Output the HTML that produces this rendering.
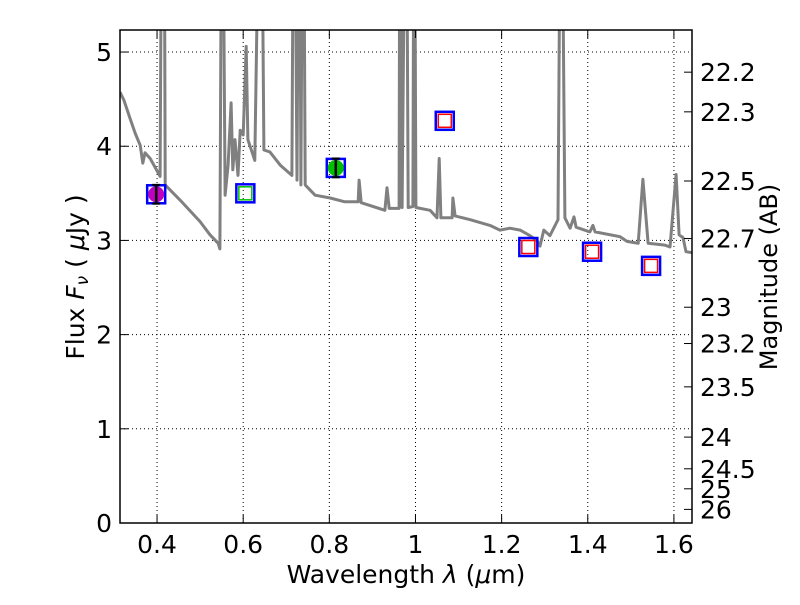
<!DOCTYPE html>
<html><head><meta charset="utf-8"><style>
body{margin:0;background:#fff}
svg{font-family:"DejaVu Sans","Liberation Sans",sans-serif}
</style></head><body>
<svg id="chart" width="800" height="600" viewBox="0 0 800 600" xmlns="http://www.w3.org/2000/svg">
<rect x="0" y="0" width="800" height="600" fill="#fff"/>
<g id="grid"></g>
<g id="plot"></g>
<g id="axes"></g>
<text x="406" y="583" font-size="25" text-anchor="middle">Wavelength  <tspan font-style="italic">λ</tspan> (<tspan font-style="italic">μ</tspan>m)</text>
<text transform="translate(84,277) rotate(-90)" font-size="25" text-anchor="middle">Flux  <tspan font-style="italic">F<tspan font-size="17" dy="4">ν</tspan></tspan><tspan dy="-4">  ( </tspan><tspan font-style="italic">μ</tspan>Jy )</text>
<text transform="translate(777,277) rotate(-90)" font-size="24" text-anchor="middle">Magnitude (AB)</text>
</svg>
<script>
const specLambda=[0.314,0.323,0.337,0.349,0.361,0.367,0.372,0.384,0.395,0.407,0.412,0.416,0.419,0.453,0.500,0.523,0.542,0.546,0.551,0.558,0.565,0.572,0.576,0.581,0.588,0.593,0.600,0.607,0.611,0.627,0.641,0.648,0.662,0.686,0.713,0.718,0.725,0.730,0.734,0.739,0.744,0.767,0.802,0.836,0.867,0.869,0.874,0.929,0.934,0.939,0.962,0.964,0.969,0.978,0.983,0.994,0.997,1.001,1.034,1.050,1.055,1.059,1.085,1.087,1.092,1.127,1.173,1.196,1.219,1.243,1.266,1.282,1.289,1.298,1.312,1.331,1.338,1.347,1.359,1.368,1.373,1.405,1.412,1.417,1.475,1.491,1.517,1.528,1.540,1.579,1.591,1.605,1.612,1.621,1.628,1.642];
const specFlux=[4.575,4.49,4.30,4.14,4.01,3.82,3.93,3.87,3.78,3.68,8,8,3.59,3.43,3.20,3.06,2.97,2.91,8,3.48,3.80,4.46,3.75,4.07,3.69,4.17,4.12,5.06,4.07,3.85,8,3.96,3.94,3.80,3.69,8,3.64,8,3.59,8,3.59,3.48,3.45,3.41,3.41,3.64,3.40,3.32,3.56,3.34,3.34,8,3.35,8,3.35,3.36,8,3.35,3.32,3.24,3.87,3.24,3.24,3.45,3.26,3.22,3.16,3.11,3.13,3.11,3.05,3.00,2.94,3.11,3.05,3.22,8,3.24,3.13,3.25,3.14,3.09,3.16,3.09,3.04,2.99,2.97,3.65,2.97,2.95,2.93,3.70,3.06,3.03,2.88,2.87];
const photLambda=[0.398,0.605,0.815,1.068,1.262,1.41,1.547];
const photFlux=[3.49,3.50,3.77,4.27,2.93,2.88,2.73];
const photErr=[0.1,0,0.1,0,0,0,0];
const photKind=['purple','green-open','green','red','red','red','red'];
const xTicks=[0.4,0.6,0.8,1.0,1.2,1.4,1.6];
const xTickLabels=['0.4','0.6','0.8','1','1.2','1.4','1.6'];
const yTicks=[0,1,2,3,4,5];
const magTicks=[22.2,22.3,22.5,22.7,23,23.2,23.5,24,24.5,25,26];
const magTickLabels=['22.2','22.3','22.5','22.7','23','23.2','23.5','24','24.5','25','26'];

const L=120,R=692,T=30,B=523;
const xMin=0.314,xMax=1.642,yMin=0,yMax=5.234;
const sx=v=>L+(v-xMin)/(xMax-xMin)*(R-L);
const sy=v=>B-(v-yMin)/(yMax-yMin)*(B-T);
const NS='http://www.w3.org/2000/svg';
function mk(tag,attrs,parent){const e=document.createElementNS(NS,tag);for(const k in attrs)e.setAttribute(k,attrs[k]);parent.appendChild(e);return e;}
const grid=document.getElementById('grid'),plot=document.getElementById('plot'),axes=document.getElementById('axes');

const defs=mk('defs',{},document.getElementById('chart'));
const cp=mk('clipPath',{id:'clip'},defs);mk('rect',{x:L,y:T,width:R-L,height:B-T},cp);
plot.setAttribute('clip-path','url(#clip)');

xTicks.forEach((v,i)=>{
  const g=mk('line',{x1:sx(v),x2:sx(v),y1:T,y2:B,stroke:'#000','stroke-width':1,'stroke-dasharray':'1,3'},grid);
  
  
  mk('line',{x1:sx(v),x2:sx(v),y1:B,y2:B-8,stroke:'#000'},axes);
  mk('line',{x1:sx(v),x2:sx(v),y1:T,y2:T+8,stroke:'#000'},axes);
  const t=mk('text',{x:sx(v),y:B+30,'font-size':25,'text-anchor':'middle'},axes);
  t.textContent=xTickLabels[i];
  
  
});
yTicks.forEach(v=>{
  const g=mk('line',{x1:L,x2:R,y1:sy(v),y2:sy(v),stroke:'#000','stroke-width':1,'stroke-dasharray':'1,3'},grid);
  
  
  mk('line',{x1:L,x2:L+8,y1:sy(v),y2:sy(v),stroke:'#000'},axes);
  const t=mk('text',{x:L-8,y:sy(v)+9,'font-size':25,'text-anchor':'end'},axes);
  t.textContent=String(v);
  
  
});
magTicks.forEach((m,i)=>{
  const f=Math.pow(10,(23.9-m)/2.5);const y=sy(f);
  mk('line',{x1:R-8,x2:R,y1:y,y2:y,stroke:'#000'},axes);
  const t=mk('text',{x:R+8,y:y+9,'font-size':25},axes);
  t.textContent=magTickLabels[i];
  
  
});

const pts=specLambda.map((l,i)=>sx(l).toFixed(1)+','+sy(specFlux[i]).toFixed(1)).join(' ');
const sp=mk('polyline',{points:pts,fill:'none',stroke:'#808080','stroke-width':3,'stroke-linejoin':'round'},plot);



photLambda.forEach((l,i)=>{
  const x=sx(l),y=sy(photFlux[i]);const k=photKind[i];
  const g=mk('g',{},plot);
  
  
  mk('rect',{x:x-9,y:y-9,width:18,height:18,fill:'none',stroke:'#0000ff','stroke-width':2.5},g);
  if(k==='purple'||k==='green'){
    mk('circle',{cx:x,cy:y,r:8,fill:k==='purple'?'#bf00bf':'#00bf00'},g);
  }else{
    mk('rect',{x:x-6.5,y:y-6.5,width:13,height:13,fill:'none',stroke:k==='red'?'#ff0000':'#00c000','stroke-width':1.5},g);
  }
  if(photErr[i]>0){
    const y1=sy(photFlux[i]+photErr[i]),y2=sy(photFlux[i]-photErr[i]);
    mk('line',{x1:x,x2:x,y1:y1,y2:y2,stroke:'#000','stroke-width':2.5},g);
    mk('line',{x1:x-4,x2:x+4,y1:y1,y2:y1,stroke:'#000','stroke-width':2},g);
    mk('line',{x1:x-4,x2:x+4,y1:y2,y2:y2,stroke:'#000','stroke-width':2},g);
  }
});
const fr=mk('rect',{x:L,y:T,width:R-L,height:B-T,fill:'none',stroke:'#000','stroke-width':1.5},axes);


</script>
</body></html>
